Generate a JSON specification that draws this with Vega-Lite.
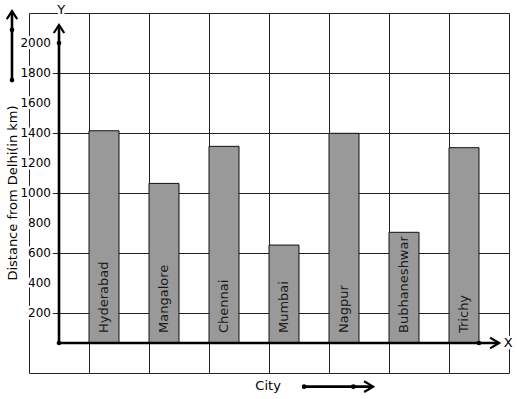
{
  "$schema": "https://vega.github.io/schema/vega-lite/v6.json",
  "width": 480,
  "height": 360,
  "autosize": {"type": "none"},
  "padding": {"left": 29, "top": 13, "right": 8, "bottom": 26},
  "background": "white",
  "config": {
    "view": {"stroke": null},
    "font": "DejaVu Sans",
    "text": {"font": "DejaVu Sans"},
    "scale": {"continuousPadding": 0}
  },
  "datasets": {
    "cities": [
      {"city": "Hyderabad", "slot": 1.5, "distance": 1415},
      {"city": "Mangalore", "slot": 3.5, "distance": 1064},
      {"city": "Chennai", "slot": 5.5, "distance": 1311},
      {"city": "Mumbai", "slot": 7.5, "distance": 653},
      {"city": "Nagpur", "slot": 9.5, "distance": 1398},
      {"city": "Bubhaneshwar", "slot": 11.5, "distance": 738},
      {"city": "Trichy", "slot": 13.5, "distance": 1302}
    ],
    "yticks": [
      {"v": 200}, {"v": 400}, {"v": 600}, {"v": 800}, {"v": 1000},
      {"v": 1200}, {"v": 1400}, {"v": 1600}, {"v": 1800}, {"v": 2000}
    ],
    "segments": [
      {"x": 0, "y": 0, "x2": 0, "y2": 2120},
      {"x": 0, "y": 0, "x2": 14.67, "y2": 0},
      {"x": -1.567, "y": 1753, "x2": -1.567, "y2": 2213},
      {"x": 8.17, "y": -291, "x2": 10.47, "y2": -291}
    ],
    "dots": [
      {"x": 0, "y": 0},
      {"x": 0, "y": 2000},
      {"x": 14, "y": 0},
      {"x": -1.567, "y": 1753},
      {"x": -1.567, "y": 2087},
      {"x": 8.17, "y": -291},
      {"x": 9.81, "y": -291}
    ],
    "upHeads": [
      {"x": 0, "y": 2120},
      {"x": -1.567, "y": 2213}
    ],
    "rightHeads": [
      {"x": 14.67, "y": 0},
      {"x": 10.47, "y": -291}
    ],
    "labels": [
      {"x": 0.07, "y": 2220, "t": "Y"},
      {"x": 14.97, "y": 0, "t": "X"},
      {"x": 6.97, "y": -287, "t": "City"}
    ]
  },
  "layer": [
    {
      "data": {"name": "cities"},
      "mark": {"type": "bar", "width": 30, "color": "#999999", "stroke": "#111111", "strokeWidth": 1},
      "encoding": {
        "x": {
          "field": "slot", "type": "quantitative",
          "scale": {"domain": [-1, 15], "nice": false, "zero": false, "padding": 0},
          "axis": {
            "values": [-1, 0, 1, 2, 3, 4, 5, 6, 7, 8, 9, 10, 11, 12, 13, 14, 15],
            "grid": true, "gridColor": "#222222", "gridOpacity": 1, "gridWidth": 1,
            "labels": false, "ticks": false, "domain": false, "title": null
          }
        },
        "y": {
          "field": "distance", "type": "quantitative",
          "scale": {"domain": [-200, 2200], "nice": false, "zero": false, "padding": 0},
          "axis": {
            "values": [-200, 0, 200, 400, 600, 800, 1000, 1200, 1400, 1600, 1800, 2000, 2200],
            "grid": true, "gridColor": "#222222", "gridOpacity": 1, "gridWidth": 1,
            "labels": false, "ticks": false, "domain": false, "title": null
          }
        },
        "y2": {"datum": 0}
      }
    },
    {
      "data": {"name": "yticks"},
      "mark": {"type": "text", "align": "right", "baseline": "middle", "dx": -8, "fontSize": 12, "color": "white", "stroke": "white", "strokeWidth": 5, "strokeJoin": "round"},
      "encoding": {
        "x": {"datum": 0, "type": "quantitative"},
        "y": {"field": "v", "type": "quantitative"},
        "text": {"field": "v", "type": "quantitative", "format": "d"}
      }
    },
    {
      "data": {"name": "yticks"},
      "mark": {"type": "text", "align": "right", "baseline": "middle", "dx": -8, "fontSize": 12, "color": "#000000"},
      "encoding": {
        "x": {"datum": 0, "type": "quantitative"},
        "y": {"field": "v", "type": "quantitative"},
        "text": {"field": "v", "type": "quantitative", "format": "d"}
      }
    },
    {
      "data": {"name": "cities"},
      "mark": {"type": "text", "angle": -90, "align": "left", "baseline": "middle", "dx": 10, "fontSize": 13, "color": "#1a1a1a"},
      "encoding": {
        "x": {"field": "slot", "type": "quantitative"},
        "y": {"datum": 0, "type": "quantitative"},
        "text": {"field": "city"}
      }
    },
    {
      "data": {"name": "segments"},
      "mark": {"type": "rule", "color": "#000000", "strokeWidth": 2.6},
      "encoding": {
        "x": {"field": "x", "type": "quantitative"},
        "y": {"field": "y", "type": "quantitative"},
        "x2": {"field": "x2"},
        "y2": {"field": "y2"}
      }
    },
    {
      "data": {"name": "dots"},
      "mark": {"type": "point", "filled": true, "color": "#000000", "size": 22, "opacity": 1},
      "encoding": {
        "x": {"field": "x", "type": "quantitative"},
        "y": {"field": "y", "type": "quantitative"}
      }
    },
    {
      "data": {"name": "upHeads"},
      "mark": {"type": "point", "shape": "M-0.65,1L0,0L0.65,1", "filled": false, "stroke": "#000000", "strokeWidth": 2.2, "size": 256, "opacity": 1},
      "encoding": {
        "x": {"field": "x", "type": "quantitative"},
        "y": {"field": "y", "type": "quantitative"}
      }
    },
    {
      "data": {"name": "rightHeads"},
      "mark": {"type": "point", "shape": "M-1,-0.6L0,0L-1,0.6", "filled": false, "stroke": "#000000", "strokeWidth": 2.2, "size": 324, "opacity": 1},
      "encoding": {
        "x": {"field": "x", "type": "quantitative"},
        "y": {"field": "y", "type": "quantitative"}
      }
    },
    {
      "data": {"name": "labels"},
      "mark": {"type": "text", "align": "center", "baseline": "middle", "fontSize": 13, "color": "white", "stroke": "white", "strokeWidth": 5, "strokeJoin": "round"},
      "encoding": {
        "x": {"field": "x", "type": "quantitative"},
        "y": {"field": "y", "type": "quantitative"},
        "text": {"field": "t"}
      }
    },
    {
      "data": {"name": "labels"},
      "mark": {"type": "text", "align": "center", "baseline": "middle", "fontSize": 13, "color": "#000000"},
      "encoding": {
        "x": {"field": "x", "type": "quantitative"},
        "y": {"field": "y", "type": "quantitative"},
        "text": {"field": "t"}
      }
    },
    {
      "data": {"values": [{"t": "Distance from Delhi(in km)"}]},
      "mark": {"type": "text", "angle": -90, "align": "center", "baseline": "middle", "fontSize": 13, "color": "#000000"},
      "encoding": {
        "x": {"datum": -1.533, "type": "quantitative"},
        "y": {"datum": 1000, "type": "quantitative"},
        "text": {"field": "t"}
      }
    }
  ]
}
